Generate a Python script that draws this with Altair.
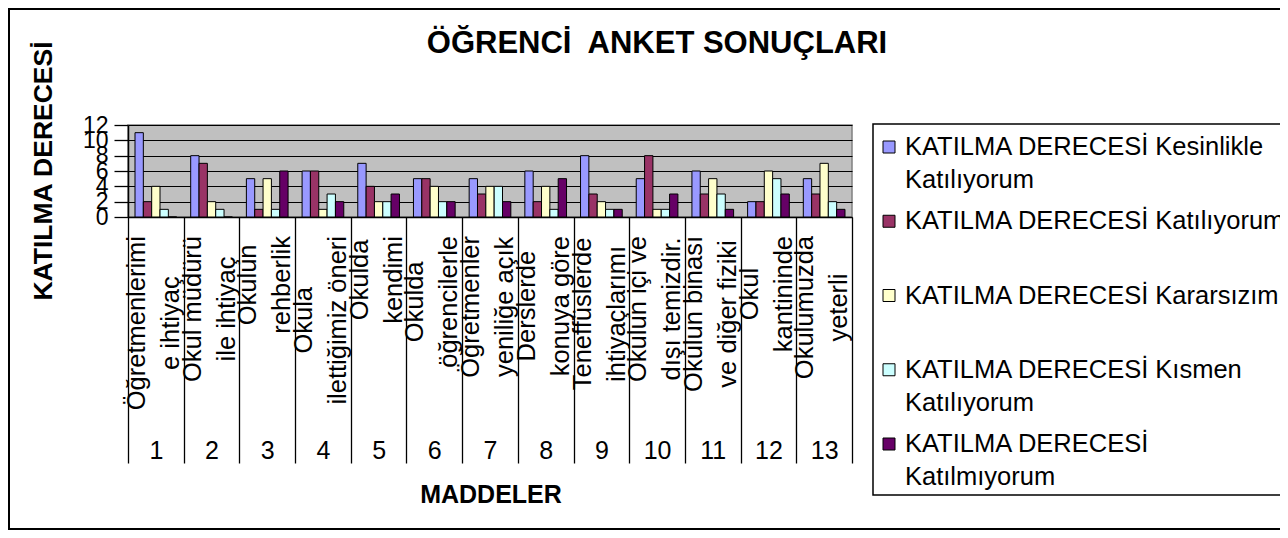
import altair as alt
import pandas as pd

FONT = "Liberation Sans"

# ---- data -------------------------------------------------------------
items = [str(i) for i in range(1, 14)]
item_line1 = ["Öğretmenlerimi", "Okul müdürü", "Okulun", "Okula", "Okulda", "Okulda",
              "Öğretmenler", "Derslerde", "Teneffüslerde", "Okulun içi ve",
              "Okulun binası", "Okul", "Okulumuzda"]
item_line2 = ["e ihtiyaç", "ile ihtiyaç", "rehberlik", "ilettiğimiz öneri", "kendimi",
              "öğrencilerle", "yeniliğe açık", "konuya göre", "ihtiyaçlarımı",
              "dışı temizdir.", "ve diğer fiziki", "kantininde", "yeterli"]

series = ["KATILMA DERECESİ Kesinlikle Katılıyorum",
          "KATILMA DERECESİ Katılıyorum",
          "KATILMA DERECESİ Kararsızım",
          "KATILMA DERECESİ Kısmen Katılıyorum",
          "KATILMA DERECESİ Katılmıyorum"]
legend_lines = [["KATILMA DERECESİ Kesinlikle", "Katılıyorum"],
                ["KATILMA DERECESİ Katılıyorum"],
                ["KATILMA DERECESİ Kararsızım"],
                ["KATILMA DERECESİ Kısmen", "Katılıyorum"],
                ["KATILMA DERECESİ", "Katılmıyorum"]]

kesinlikle = [11, 8, 5, 6, 7, 5, 5, 6, 8, 5, 6, 2, 5]
katiliyorum = [2, 7, 1, 6, 4, 5, 3, 2, 3, 8, 3, 2, 3]
kararsizim = [4, 2, 5, 1, 2, 4, 4, 4, 2, 1, 5, 6, 7]
kismen = [1, 1, 1, 3, 2, 2, 4, 1, 1, 1, 3, 5, 2]
katilmiyorum = [0, 0, 6, 2, 3, 2, 2, 5, 1, 3, 1, 3, 1]

y_ticks = [0, 2, 4, 6, 8, 10, 12]
colors = ["#9999FF", "#993366", "#FFFFCC", "#CCFFFF", "#660066"]

title_text = "ÖĞRENCİ\u00a0 ANKET SONUÇLARI"
y_title = "KATILMA DERECESİ"
x_title = "MADDELER"

# ---- layout helpers -----------------------------------------------------
PLOT_W, PLOT_H = 724, 92
LABEL_FS = 25.5
LEG_FS = 25.5

# Arial / Liberation Sans advance widths (1/1000 em)
ARIAL = {
    "a": 556, "b": 556, "c": 500, "ç": 500, "d": 556, "e": 556, "f": 278, "g": 556,
    "ğ": 556, "h": 556, "i": 222, "ı": 278, "k": 500, "l": 222, "m": 833, "n": 556,
    "o": 556, "ö": 556, "r": 333, "s": 500, "ş": 500, "t": 278, "u": 556, "ü": 556,
    "v": 500, "y": 500, "z": 500, " ": 278, ".": 278, "O": 778, "Ö": 778, "D": 722,
    "T": 611,
}


def text_width(s, size):
    return sum(ARIAL.get(ch, 556) for ch in s) / 1000.0 * size


values = [kesinlikle, katiliyorum, kararsizim, kismen, katilmiyorum]
bar_rows = []
for s, vals in zip(series, values):
    for it, v in zip(items, vals):
        bar_rows.append({"item": it, "series": s, "value": v})
bars_df = pd.DataFrame(bar_rows)

lab_rows = []
for it, l1, l2 in zip(items, item_line1, item_line2):
    block = max(text_width(l1, LABEL_FS), text_width(l2, LABEL_FS))
    py = 111 + block / 2.0
    lab_rows.append({"item": it, "line": 1, "text": l1, "py": py})
    lab_rows.append({"item": it, "line": 2, "text": l2, "py": py})
lab_df = pd.DataFrame(lab_rows)

leg_rows = []
for k, (s, lines) in enumerate(zip(series, legend_lines)):
    for j, t in enumerate(lines):
        leg_rows.append({"series": s, "line": j, "text": t,
                         "py": 22 + 74.25 * k + 33 * j})
leg_df = pd.DataFrame(leg_rows)

one = pd.DataFrame({"k": [0]})

color_enc = alt.Color("series:N", sort=series,
                      scale=alt.Scale(domain=series, range=colors), legend=None)

# ---- layers -------------------------------------------------------------
frame = alt.Chart(one).mark_rect(fill="transparent", stroke="black", strokeWidth=2).encode(
    x=alt.value(-119), x2=alt.value(1200), y=alt.value(-116), y2=alt.value(404))

bars = alt.Chart(bars_df).mark_bar(stroke="black", strokeWidth=1).encode(
    x=alt.X("item:N", sort=items, title=None,
            scale=alt.Scale(paddingInner=0, paddingOuter=0)),
    xOffset=alt.XOffset("series:N", sort=series,
                        scale=alt.Scale(paddingInner=0, paddingOuter=0.84)),
    y=alt.Y("value:Q", title=None,
            scale=alt.Scale(domain=[0, 12], nice=False, zero=True),
            axis=alt.Axis(values=y_ticks)),
    color=color_enc,
)


def label_layer(line, offset):
    return alt.Chart(lab_df).transform_filter(f"datum.line == {line}").mark_text(
        angle=270, align="center", baseline="alphabetic", dy=offset,
        fontSize=LABEL_FS, font=FONT, color="black").encode(
        x=alt.X("item:N", sort=items, bandPosition=0, title=None),
        y=alt.Y("py:Q", scale=None, axis=None),
        text="text:N")


lab1 = label_layer(1, 17)
lab2 = label_layer(2, 51)

leg_box = alt.Chart(one).mark_rect(fill="white", stroke="black", strokeWidth=1.5).encode(
    x=alt.value(745), x2=alt.value(1200), y=alt.value(-1), y2=alt.value(370))

leg_sym = alt.Chart(leg_df).transform_filter("datum.line == 0").mark_square(
    size=144, stroke="black", strokeWidth=1, opacity=1, filled=True).encode(
    x=alt.value(761), y=alt.Y("py:Q", scale=None, axis=None), color=color_enc)

leg_txt = alt.Chart(leg_df).mark_text(
    align="left", baseline="middle", fontSize=LEG_FS, font=FONT, color="black").encode(
    x=alt.value(777), y=alt.Y("py:Q", scale=None, axis=None), text="text:N")

title = alt.Chart(one).mark_text(
    align="center", baseline="alphabetic", fontSize=31, fontWeight="bold",
    font=FONT, color="black", text=title_text).encode(
    x=alt.value(529), y=alt.value(-72))

ytitle = alt.Chart(one).mark_text(
    align="center", baseline="alphabetic", angle=270, fontSize=26.5, fontWeight="bold",
    font=FONT, color="black", text=y_title).encode(
    x=alt.value(-76), y=alt.value(46))

xtitle = alt.Chart(one).mark_text(
    align="center", baseline="alphabetic", fontSize=25, fontWeight="bold",
    font=FONT, color="black", text=x_title).encode(
    x=alt.value(363), y=alt.value(378))

chart = alt.layer(
    frame, bars, lab1, lab2, leg_box, leg_sym, leg_txt, title, ytitle, xtitle
).resolve_scale(y="independent").properties(
    width=PLOT_W, height=PLOT_H,
    autosize=alt.AutoSizeParams(type="none"),
    padding={"left": 120, "top": 117, "right": 428, "bottom": 313},
    background="white",
).configure_view(
    fill="#C0C0C0", stroke="#808080", strokeWidth=1.5,
).configure_axisX(
    labelFont=FONT, labelFontSize=25, labelColor="black", labelAngle=0,
    labelPadding=-13, labelBaseline="middle", tickBand="extent", tickSize=246,
    tickColor="black", tickWidth=1.3, domainColor="black", domainWidth=1.5,
    grid=False, labelOverlap=False,
).configure_axisY(
    labelFont=FONT, labelFontSize=23, labelColor="black", labelPadding=6,
    tickSize=14, tickColor="black", tickWidth=1.3, domainColor="black",
    domainWidth=1.5, grid=True, gridColor="black", gridWidth=1.2,
    labelOverlap=False,
)

chart.save("out.html", embed_options={"renderer": "svg", "actions": False})
